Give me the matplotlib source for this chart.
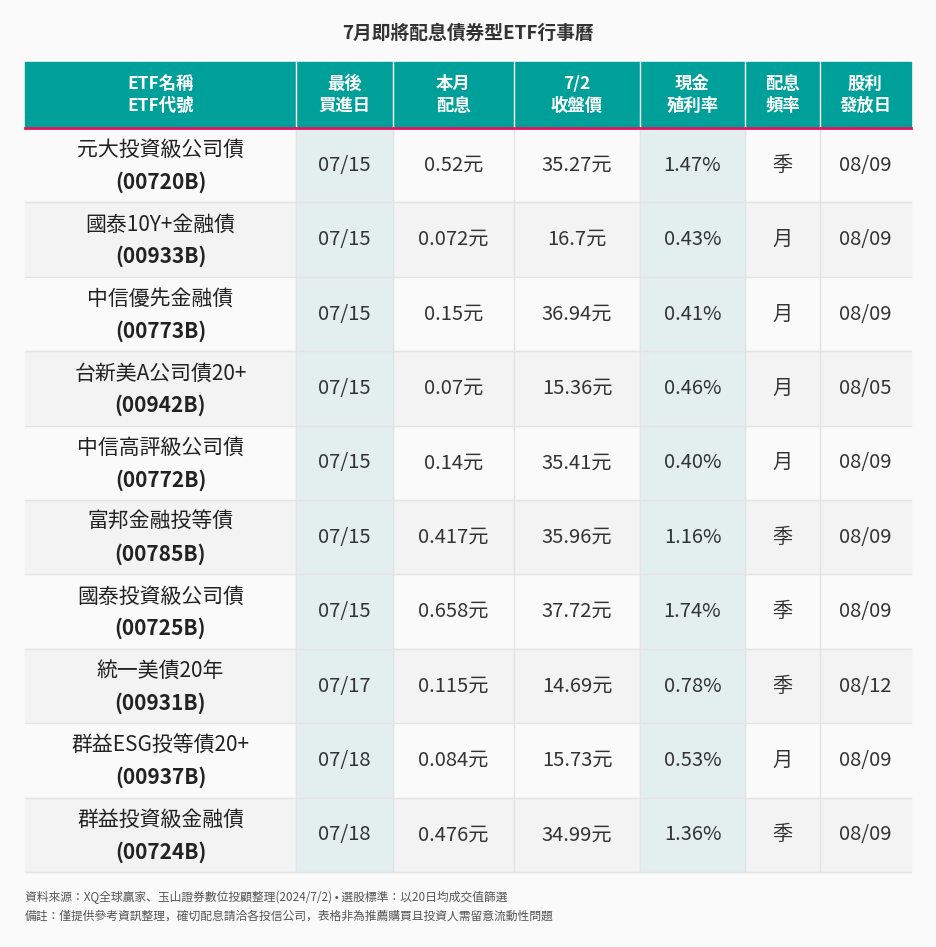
import matplotlib.pyplot as plt
from matplotlib.patches import Rectangle

plt.rcParams["font.family"] = ["Noto Sans CJK TC", "Noto Sans CJK JP", "Noto Sans CJK SC", "DejaVu Sans"]

title = "7月即將配息債券型ETF行事曆"
headers = ["ETF名稱\nETF代號", "最後\n買進日", "本月\n配息", "7/2\n收盤價", "現金\n殖利率", "配息\n頻率", "股利\n發放日"]
names = ["元大投資級公司債", "國泰10Y+金融債", "中信優先金融債", "台新美A公司債20+", "中信高評級公司債",
         "富邦金融投等債", "國泰投資級公司債", "統一美債20年", "群益ESG投等債20+", "群益投資級金融債"]
codes = ["00720B", "00933B", "00773B", "00942B", "00772B", "00785B", "00725B", "00931B", "00937B", "00724B"]
last_buy = ["07/15", "07/15", "07/15", "07/15", "07/15", "07/15", "07/15", "07/17", "07/18", "07/18"]
dividend = ["0.52元", "0.072元", "0.15元", "0.07元", "0.14元", "0.417元", "0.658元", "0.115元", "0.084元", "0.476元"]
close = ["35.27元", "16.7元", "36.94元", "15.36元", "35.41元", "35.96元", "37.72元", "14.69元", "15.73元", "34.99元"]
yld = ["1.47%", "0.43%", "0.41%", "0.46%", "0.40%", "1.16%", "1.74%", "0.78%", "0.53%", "1.36%"]
freq = ["季", "月", "月", "月", "月", "季", "季", "季", "月", "季"]
pay = ["08/09", "08/09", "08/09", "08/05", "08/09", "08/09", "08/09", "08/12", "08/09", "08/09"]
notes = ["資料來源：XQ全球贏家、玉山證券數位投顧整理(2024/7/2) • 選股標準：以20日均成交值篩選",
         "備註：僅提供參考資訊整理，確切配息請洽各投信公司，表格非為推薦購買且投資人需留意流動性問題"]

col_edges = [25, 296, 393, 514, 640, 745, 820, 911]
head_top, head_bot, table_bot = 62, 128, 872
teal, pink = "#00a09a", "#e0145f"

fig = plt.figure(figsize=(9.36, 9.47), dpi=100)
fig.patch.set_facecolor("#fafafa")
ax = fig.add_axes([0, 0, 1, 1])
ax.set_xlim(0, 936)
ax.set_ylim(947, 0)
ax.axis("off")

ax.text(468, 33, title, ha="center", va="center", fontsize=13.5, fontweight="bold", color="#333333")

# header
ax.add_patch(Rectangle((col_edges[0], head_top), col_edges[-1] - col_edges[0], head_bot - head_top, color=teal))
for i, h in enumerate(headers):
    cx = (col_edges[i] + col_edges[i + 1]) / 2
    ax.text(cx, (head_top + head_bot) / 2, h, ha="center", va="center", fontsize=12.5,
            fontweight="bold", color="white", linespacing=1.25)
    if i > 0:
        ax.plot([col_edges[i]] * 2, [head_top, head_bot], color="white", lw=1)
ax.plot([col_edges[0], col_edges[-1]], [head_bot, head_bot], color=pink, lw=2)

n = len(names)
rh = (table_bot - head_bot) / n
cols = [last_buy, dividend, close, yld, freq, pay]
for r in range(n):
    y0 = head_bot + r * rh
    bg = "#fafafa" if r % 2 == 0 else "#f3f3f3"
    ax.add_patch(Rectangle((col_edges[0], y0), col_edges[-1] - col_edges[0], rh, color=bg, zorder=0))
    for c in (1, 4):
        ax.add_patch(Rectangle((col_edges[c], y0), col_edges[c + 1] - col_edges[c], rh,
                               color="#e2efee", zorder=0.5))
    cy = y0 + rh / 2
    cx = (col_edges[0] + col_edges[1]) / 2
    ax.text(cx, cy - 15, names[r], ha="center", va="center", fontsize=15, color="#222222")
    ax.text(cx, cy + 17, "(" + codes[r] + ")", ha="center", va="center", fontsize=15,
            fontweight="bold", color="#222222")
    for j, col in enumerate(cols):
        cx = (col_edges[j + 1] + col_edges[j + 2]) / 2
        ax.text(cx, cy, col[r], ha="center", va="center", fontsize=14.5, color="#333333")
    ax.plot([col_edges[0], col_edges[-1]], [y0 + rh] * 2, color="#e3e3e3", lw=1, zorder=1)
for x in col_edges[1:-1]:
    ax.plot([x, x], [head_bot, table_bot], color="#e3e3e3", lw=1, zorder=1)

ax.text(25, 897, notes[0], ha="left", va="center", fontsize=8.5, color="#555555")
ax.text(25, 916, notes[1], ha="left", va="center", fontsize=8.5, color="#555555")

fig.savefig("out.png", dpi=100, facecolor=fig.get_facecolor())
